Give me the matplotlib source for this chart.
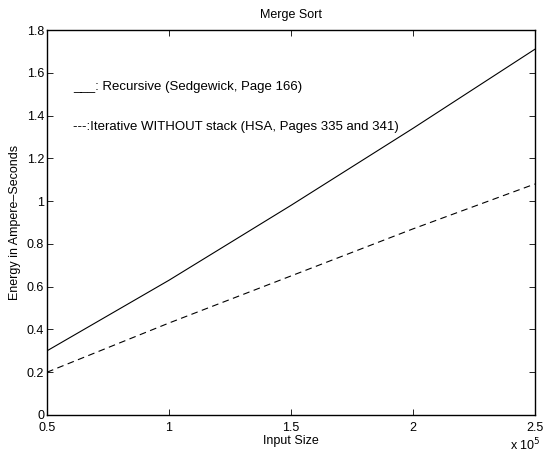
import matplotlib
matplotlib.use('Agg')
import matplotlib.pyplot as plt

plt.rcParams['font.family'] = ['Liberation Sans', 'DejaVu Sans']

# input sizes (x 10^5)
sizes = [0.5, 1.0, 1.5, 2.0, 2.5]
recursive = [0.30, 0.63, 0.98, 1.34, 1.71]
iterative = [0.20, 0.43, 0.65, 0.87, 1.08]

fs = 9
fig = plt.figure(figsize=(5.43, 4.59), dpi=100)
ax = fig.add_axes([0.0866, 0.0959, 0.8984, 0.8387])

ax.plot(sizes, recursive, '-', color='black', linewidth=0.8)
ax.plot(sizes, iterative, '--', color='black', linewidth=0.8, dashes=(6, 4))

ax.set_xlim(0.5, 2.5)
ax.set_ylim(0, 1.8)
ax.set_xticks([0.5, 1, 1.5, 2, 2.5])
ax.set_xticklabels(['0.5', '1', '1.5', '2', '2.5'])
ax.set_yticks([0, 0.2, 0.4, 0.6, 0.8, 1, 1.2, 1.4, 1.6, 1.8])
ax.set_yticklabels(['0', '0.2', '0.4', '0.6', '0.8', '1', '1.2', '1.4', '1.6', '1.8'])
ax.tick_params(direction='in', length=4, width=0.6, labelsize=fs,
               top=True, right=True)
ax.tick_params(axis='x', pad=5)
ax.tick_params(axis='y', pad=2)
for s in ax.spines.values():
    s.set_linewidth(1.0)

ax.set_title('Merge Sort', fontsize=fs, pad=9)
ax.set_xlabel('Input Size', fontsize=fs, labelpad=1)
ax.set_ylabel('Energy in Ampere\u2013Seconds', fontsize=fs, labelpad=4)

ax.text(0.607, 1.533, '___: Recursive (Sedgewick, Page 166)', fontsize=9.5, va='center')
ax.text(0.607, 1.346, '---:Iterative WITHOUT stack (HSA, Pages 335 and 341)',
        fontsize=9.5, va='center')

fig.text(0.94, 0.012, r'x 10$^5$', fontsize=fs, ha='left', va='bottom')

fig.savefig('out.png', dpi=100)
